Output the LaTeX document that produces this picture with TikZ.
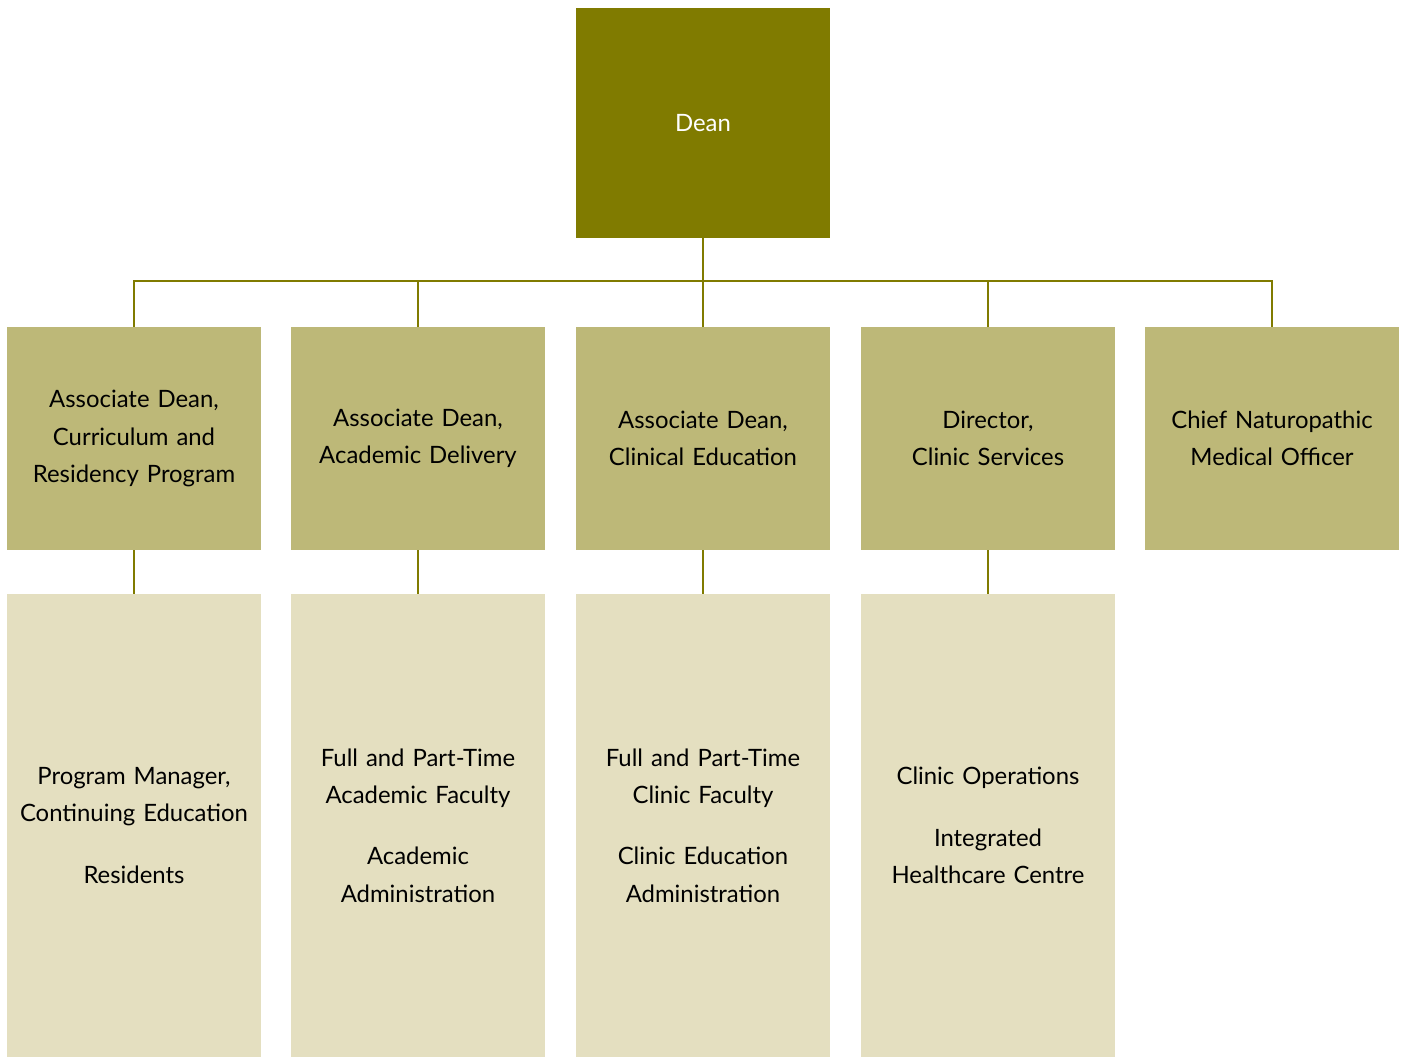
\documentclass[tikz,border=0pt]{standalone}
\usepackage{fontspec}
\setmainfont{Lato}
\usepackage{tikz}
\definecolor{deanolive}{HTML}{807B00}
\definecolor{midolive}{HTML}{BDB878}
\definecolor{paleolive}{HTML}{E4DFC0}

\begin{document}
\begin{tikzpicture}[x=0.02cm, y=-0.02cm,
    box/.style={inner sep=0pt, align=center, text width=4.9cm,
        minimum width=5.08cm, font=\fontsize{13.6}{21.3}\selectfont},
    deanbox/.style={box, fill=deanolive, text=white, minimum height=4.6cm},
    headbox/.style={box, fill=midolive, minimum height=4.46cm},
    staffbox/.style={box, fill=paleolive, minimum height=9.26cm},
    link/.style={draw=deanolive, line width=1.6pt}]
            \useasboundingbox (0,0) rectangle (1401,1057);

            % Nodes
            \node[deanbox] (dean) at (703, 123) {Dean};

            \node[headbox] (curr) at (134, 438.5) {Associate Dean,\\Curriculum and\\Residency Program};
            \node[headbox] (acad) at (418, 438.5) {Associate Dean,\\Academic Delivery};
            \node[headbox] (clin) at (703, 438.5) {Associate Dean,\\Clinical Education};
            \node[headbox] (serv) at (988, 438.5) {Director,\\Clinic Services};
            \node[headbox] (cnmo) at (1272, 438.5) {Chief Naturopathic\\Medical Officer};

            \node[staffbox] (pm) at (134, 825.5) {Program Manager,\\Continuing Education\\[0.48cm]Residents};
            \node[staffbox] (fac) at (418, 825.5) {Full and Part-Time\\Academic Faculty\\[0.48cm]Academic\\Administration};
            \node[staffbox] (cfac) at (703, 825.5) {Full and Part-Time\\Clinic Faculty\\[0.48cm]Clinic Education\\Administration};
            \node[staffbox] (ops) at (988, 825.5) {Clinic Operations\\[0.48cm]Integrated\\Healthcare Centre};

            % Lines
            \coordinate (bus) at (703, 281);
            \draw[link] (dean.south) -- (clin.north);
            \draw[link] (curr.north) |- (bus);
            \draw[link] (acad.north) |- (bus);
            \draw[link] (serv.north) |- (bus);
            \draw[link] (cnmo.north) |- (bus);

            \draw[link] (curr.south) -- (pm.north);
            \draw[link] (acad.south) -- (fac.north);
            \draw[link] (clin.south) -- (cfac.north);
            \draw[link] (serv.south) -- (ops.north);
        \end{tikzpicture}
\end{document}
